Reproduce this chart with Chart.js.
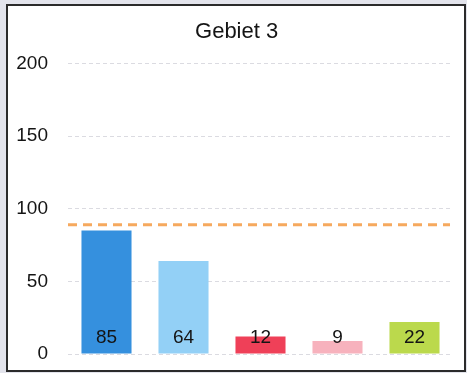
<!DOCTYPE html>
<html>
<head>
<meta charset="utf-8">
<script src="https://cdn.jsdelivr.net/npm/chart.js@4/dist/chart.umd.min.js"></script>
<style>
  html, body { margin: 0; padding: 0; background: #e3e4ec; }
  body { width: 467px; height: 373px; position: relative; overflow: hidden; }
  #frame {
    position: absolute; left: 6px; top: 4px;
    width: 456px; height: 364px;
    border: 2px solid #2b2b2b; background: #ffffff;
  }
  canvas { display: block; }
</style>
</head>
<body>
<div id="frame"><canvas id="c" width="456" height="364"></canvas></div>
<script>
const chartTitle = '  Gebiet 3';
const categories = ['A', 'B', 'C', 'D', 'E'];
const values = [85, 64, 12, 9, 22];
const barColors = ['#3590de', '#93d0f6', '#ef4058', '#f7b2bd', '#bbd94c'];
const targetValue = 89;
const yTicks = { min: 0, max: 200, step: 50 };

const FONT = '"Liberation Sans", Arial, sans-serif';

// Horizontal dashed target line across the plot area
const targetLine = {
  id: 'targetLine',
  afterDatasetsDraw(chart) {
    const { ctx, chartArea, scales } = chart;
    const y = scales.y.getPixelForValue(targetValue);
    ctx.save();
    ctx.strokeStyle = '#f6a95e';
    ctx.lineWidth = 3;
    ctx.setLineDash([9, 6]);
    ctx.beginPath();
    ctx.moveTo(chartArea.left, y);
    ctx.lineTo(chartArea.right - 3, y);
    ctx.stroke();
    ctx.restore();
  }
};

// Value labels near the foot of each bar
const valueLabels = {
  id: 'valueLabels',
  afterDatasetsDraw(chart) {
    const { ctx, scales } = chart;
    const meta = chart.getDatasetMeta(0);
    const base = scales.y.getPixelForValue(0);
    ctx.save();
    ctx.fillStyle = '#141414';
    ctx.font = '19px ' + FONT;
    ctx.textAlign = 'center';
    ctx.textBaseline = 'middle';
    meta.data.forEach((bar, i) => {
      ctx.fillText(String(values[i]), bar.x, base - 16);
    });
    ctx.restore();
  }
};

new Chart(document.getElementById('c'), {
  type: 'bar',
  data: {
    labels: categories,
    datasets: [{
      data: values,
      backgroundColor: barColors,
      borderWidth: 0,
      barPercentage: 0.65,
      categoryPercentage: 1.0
    }]
  },
  options: {
    responsive: false,
    animation: false,
    layout: { padding: { left: 0, right: 11, top: 0, bottom: 16 } },
    plugins: {
      legend: { display: false },
      tooltip: { enabled: false },
      title: {
        display: true,
        text: chartTitle,
        color: '#141414',
        font: { family: FONT, size: 22, weight: 'normal' },
        padding: { top: 13, bottom: 18 }
      }
    },
    scales: {
      x: {
        display: false
      },
      y: {
        min: yTicks.min,
        max: yTicks.max,
        afterFit(scale) {
          scale.width = 60;
          scale.paddingTop = 0;
          scale.paddingBottom = 0;
        },
        border: { display: false, dash: [4, 3] },
        grid: {
          color: 'rgba(195,195,205,0.6)',
          lineWidth: 1,
          drawTicks: false
        },
        ticks: {
          stepSize: yTicks.step,
          padding: 20,
          color: '#141414',
          font: { family: FONT, size: 19 }
        }
      }
    }
  },
  plugins: [targetLine, valueLabels]
});
</script>
</body>
</html>
